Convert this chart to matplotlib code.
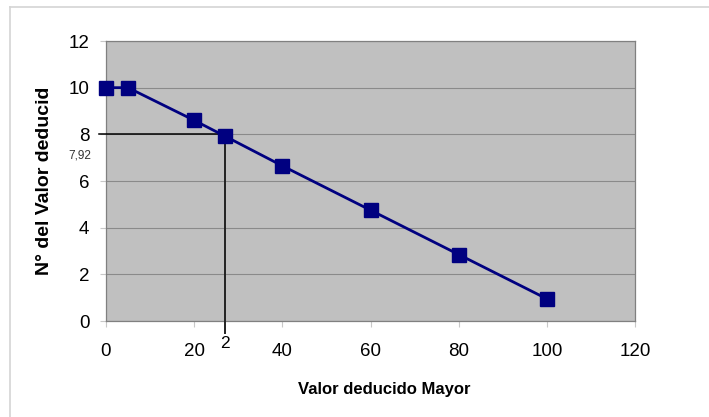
import matplotlib

matplotlib.use("Agg")
import matplotlib.pyplot as plt
from matplotlib.lines import Line2D

# data
valor_mayor = [0, 5, 20, 27, 40, 60, 80, 100]
n_valor = [10, 10, 8.6, 7.92, 6.65, 4.75, 2.85, 0.95]
x_ticks = [0, 20, 40, 60, 80, 100, 120]
y_ticks = [0, 2, 4, 6, 8, 10, 12]
ref_x, ref_y = 27, 8
ref_x_label, ref_y_label = "2", "7,92"

NAVY, BG, GRID = "#000080", "#c0c0c0", "#8a8a8a"

plt.rcParams["font.family"] = ["Liberation Sans", "DejaVu Sans"]

W, H = 709, 417
AX_L, AX_R, AX_T, AX_B = 106, 635, 41, 321
fig = plt.figure(figsize=(W / 100, H / 100), dpi=100)
ax = fig.add_axes([AX_L / W, 1 - AX_B / H, (AX_R - AX_L) / W, (AX_B - AX_T) / H])
ax.set_facecolor(BG)

ax.plot(valor_mayor, n_valor, color=NAVY, linewidth=2.0, marker="s",
        markersize=9.5, markerfacecolor=NAVY, markeredgecolor=NAVY,
        clip_on=False, zorder=4)

ax.set_xlim(0, 120)
ax.set_ylim(0, 12)
ax.set_xticks(x_ticks)
ax.set_yticks(y_ticks)
ax.grid(True, axis="y", color=GRID, linewidth=0.8)
ax.set_axisbelow(True)
for s in ax.spines.values():
    s.set_color("#808080")
    s.set_linewidth(0.9)
ax.tick_params(axis="x", length=4, color="#c8c8c8", labelsize=13.5, pad=12)
ax.tick_params(axis="y", length=4, color="#c8c8c8", labelsize=13.5, pad=8)

# reference lines to the read value (run outside the plot area)
ax.plot([-1.5, ref_x], [ref_y, ref_y], color="black", linewidth=1.1,
        clip_on=False, zorder=3)
ax.plot([ref_x, ref_x], [ref_y, -0.5], color="#222222", linewidth=1.4,
        clip_on=False, zorder=3)
ax.text(ref_x, -0.65, ref_x_label, ha="center", va="top", fontsize=12.5)
ax.text(-3.4, 7.1, ref_y_label, ha="right", va="center", fontsize=8.5,
        color="#333333")

ax.set_xlabel("Valor deducido Mayor", fontsize=12, fontweight="bold", va="top")
ax.xaxis.set_label_coords((384 - AX_L) / (AX_R - AX_L), -(382 - AX_B) / (AX_B - AX_T))
ax.set_ylabel("N° del Valor deducid", fontsize=14, fontweight="bold", va="center")
ax.yaxis.set_label_coords(-(AX_L - 45) / (AX_R - AX_L), 0.5)

# thin outer frame (top and left only)
fig.add_artist(Line2D([10 / W, 1], [1 - 7 / H, 1 - 7 / H], color="#d4d4d4", linewidth=1.2))
fig.add_artist(Line2D([10 / W, 10 / W], [0, 1 - 7 / H], color="#d4d4d4", linewidth=1.2))

fig.savefig("out.png", dpi=100, facecolor="white")
